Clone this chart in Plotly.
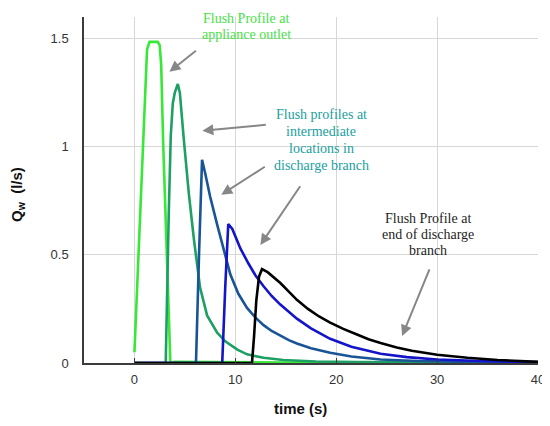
import plotly.graph_objects as go

# ---- data ----
t_outlet = [0, 0.3, 0.6, 0.9, 1.1, 1.25, 1.5, 2.0, 2.3, 2.5, 2.65, 2.84, 3.07, 3.3, 3.56, 4.0, 6, 10, 15, 20, 25, 30, 36]
q_outlet = [0.05, 0.38, 0.69, 1.02, 1.27, 1.45, 1.485, 1.487, 1.485, 1.47, 1.38, 1.03, 0.69, 0.35, 0.0, 0.005, 0.004, 0.003, 0.002, 0.002, 0.002, 0.002, 0.002]

t_inter1 = [0, 3.1, 3.4, 3.6, 3.8, 4.0, 4.3, 4.5, 4.9, 5.4, 5.9, 6.5, 7.2, 8.2, 9.0, 9.5, 10.2, 11.16, 12.8, 14.75, 18, 22, 30, 40]
q_inter1 = [0, 0, 0.69, 1.05, 1.2, 1.25, 1.29, 1.25, 1.03, 0.78, 0.57, 0.35, 0.22, 0.14, 0.1, 0.083, 0.062, 0.04, 0.024, 0.014, 0.007, 0.004, 0.002, 0.001]

t_inter2 = [0, 6.1, 6.4, 6.7, 7.0, 7.5, 8.2, 8.8, 9.5, 10.3, 11.16, 12.0, 12.8, 13.6, 14.46, 15.3, 16.1, 17.5, 19.4, 21.5, 24.4, 28, 32, 36, 40]
q_inter2 = [0, 0, 0.5, 0.94, 0.88, 0.77, 0.64, 0.53, 0.41, 0.32, 0.255, 0.21, 0.175, 0.148, 0.125, 0.106, 0.09, 0.068, 0.047, 0.03, 0.016, 0.009, 0.006, 0.004, 0.003]

t_inter3 = [0, 8.7, 9.0, 9.3, 9.7, 10.5, 11.3, 12.0, 12.8, 13.6, 14.46, 15.3, 16.1, 17.5, 19.4, 21.5, 24.4, 27, 30, 35, 40]
q_inter3 = [0, 0, 0.35, 0.643, 0.62, 0.53, 0.46, 0.405, 0.355, 0.31, 0.27, 0.235, 0.205, 0.16, 0.112, 0.075, 0.043, 0.027, 0.016, 0.008, 0.004]

t_end = [0, 11.65, 11.85, 12.08, 12.35, 12.64, 13.2, 14.0, 14.46, 15.3, 16.1, 17.2, 18.3, 19.4, 20.7, 22, 23.2, 24.4, 26, 27.5, 30, 33, 36, 40]
q_end = [0, 0, 0.12, 0.29, 0.4, 0.434, 0.42, 0.39, 0.37, 0.33, 0.292, 0.25, 0.215, 0.187, 0.158, 0.133, 0.11, 0.092, 0.072, 0.057, 0.038, 0.024, 0.014, 0.005]

x_ticks = [0, 10, 20, 30, 40]
y_ticks = [0, 0.5, 1, 1.5]
y_ticktext = ["0", "0.5", "1", "1.5"]

label_outlet = ["Flush Profile at", "appliance outlet"]
label_inter = ["Flush profiles at", "intermediate", "locations in", "discharge branch"]
label_end = ["Flush Profile at", "end of discharge", "branch"]

series = [
    (t_outlet, q_outlet, "rgb(55,232,55)"),
    (t_inter1, q_inter1, "rgb(30,160,100)"),
    (t_inter2, q_inter2, "rgb(25,85,150)"),
    (t_inter3, q_inter3, "rgb(20,20,200)"),
    (t_end, q_end, "rgb(0,0,0)"),
]

# the page has an 8px body margin; size the figure so the plot lands where the reference has it
OFF = 8
W, H = 550 - OFF, 426 - OFF
L, R, T, B = 84 - OFF, 12, 17 - OFF, 63
PW, PH = W - L - R, H - T - B

def px(x):
    return (x - OFF - L) / PW

def py(y):
    return (H - B - (y - OFF)) / PH

fig = go.Figure()
for t, q, c in series:
    fig.add_trace(go.Scatter(x=t, y=q, mode="lines", line=dict(color=c, width=2.6),
                             showlegend=False, hoverinfo="skip", cliponaxis=False))

serif = "Liberation Serif, Times New Roman, serif"
annotations = []
text_blocks = [
    (label_outlet, 246, [18, 34], "rgb(70,225,70)"),
    (label_inter, 321, [114, 131, 148, 165], "rgb(32,160,160)"),
    (label_end, 428, [218, 234, 250], "rgb(30,30,30)"),
]
for lines, cx, ys, col in text_blocks:
    for line, yy in zip(lines, ys):
        annotations.append(dict(xref="paper", yref="paper", x=px(cx), y=py(yy), text=line,
                                showarrow=False, font=dict(family=serif, size=14, color=col),
                                xanchor="center", yanchor="middle"))

arrows = [
    ((6.24, 1.449), (3.47, 1.347)),
    ((13.17, 1.102), (6.73, 1.074)),
    ((13.07, 0.912), (8.61, 0.778)),
    ((16.53, 0.824), (12.48, 0.546)),
    ((29.3, 0.44), (26.53, 0.125)),
]
for (tx, ty), (hx, hy) in arrows:
    annotations.append(dict(x=hx, y=hy, ax=tx, ay=ty, xref="x", yref="y", axref="x", ayref="y",
                            text="", showarrow=True, arrowhead=2, arrowsize=1.1, arrowwidth=2,
                            arrowcolor="rgb(135,135,135)"))

annotations.append(dict(xref="paper", yref="paper", x=px(17), y=py(195), textangle=-90,
                        text="<b>Q<sub>w</sub>  (l/s)</b>", showarrow=False,
                        font=dict(family="Liberation Sans, Arial", size=15, color="#111"),
                        xanchor="center", yanchor="middle"))
annotations.append(dict(xref="paper", yref="paper", x=px(300), y=py(408),
                        text="<b>time (s)</b>", showarrow=False,
                        font=dict(family="Liberation Sans, Arial", size=15, color="#111"),
                        xanchor="center", yanchor="middle"))

fig.update_layout(
    width=W, height=H,
    margin=dict(l=L, r=R, t=T, b=B),
    paper_bgcolor="white", plot_bgcolor="white",
    font=dict(family="Liberation Sans, Arial", size=13, color="#333"),
    annotations=annotations,
    xaxis=dict(range=[-5, 40], tickvals=x_ticks, showgrid=True, gridcolor="rgb(215,215,215)", gridwidth=1,
               showline=True, linecolor="rgb(60,60,60)", linewidth=1.5, ticks="inside", ticklen=5,
               tickcolor="rgb(60,60,60)", zeroline=False, ticklabelstandoff=4, automargin=False),
    yaxis=dict(range=[0, 1.6], tickvals=y_ticks, ticktext=y_ticktext, showgrid=True,
               gridcolor="rgb(215,215,215)", gridwidth=1, showline=True, linecolor="rgb(60,60,60)",
               linewidth=1.5, ticks="", zeroline=False, ticklabelstandoff=11, automargin=False),
)

fig.write_html("out.html")
